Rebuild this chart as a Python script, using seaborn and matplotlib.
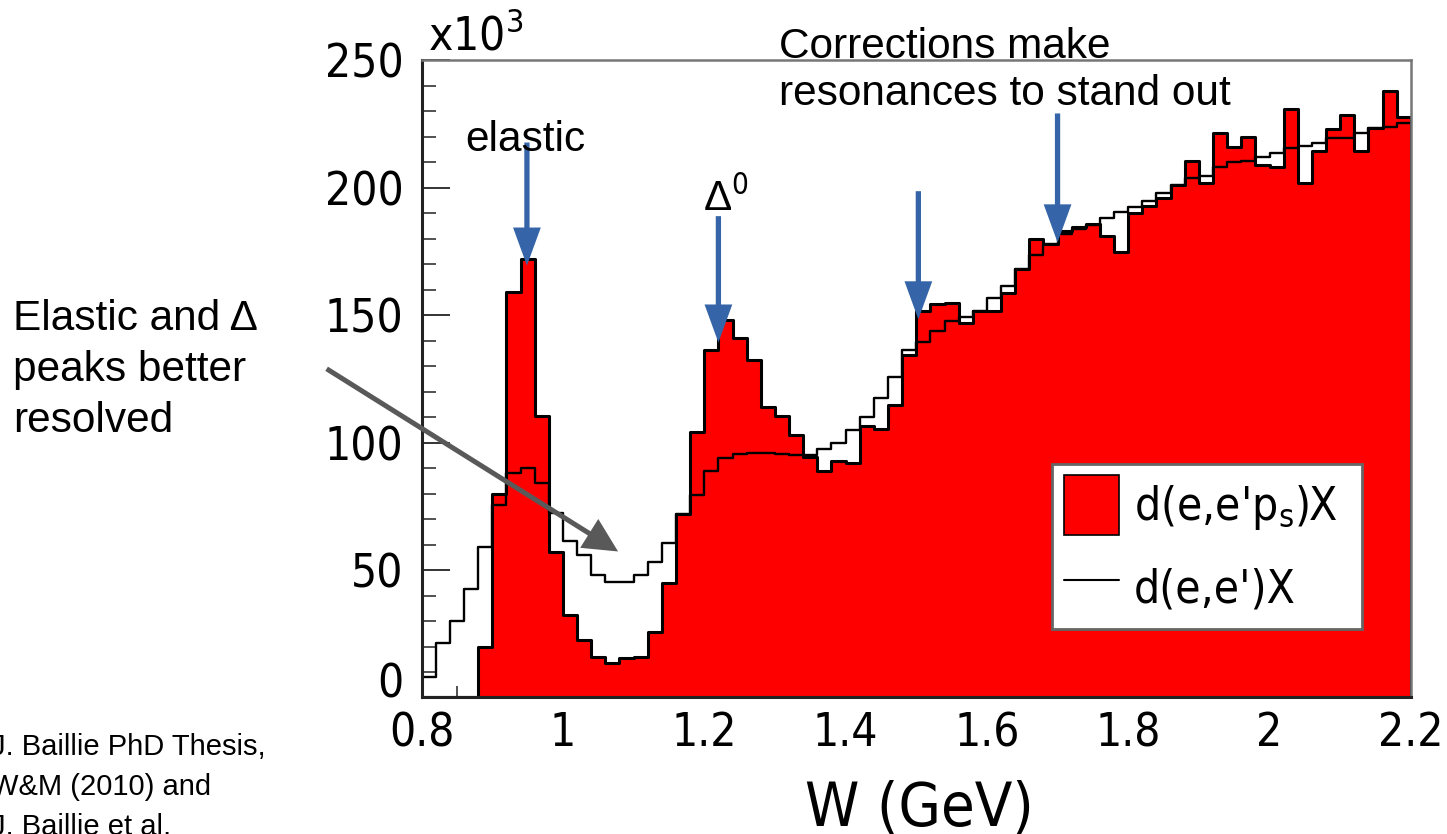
import numpy as np
import pandas as pd
import matplotlib.pyplot as plt
import seaborn as sns
from matplotlib.patches import Patch
from matplotlib.lines import Line2D

# W bins (GeV), 0.02 GeV wide
w_edges = np.linspace(0.80, 2.20, 71)

# counts per bin, in units of 10^3
tagged = [0, 0, 0, 0, 20, 80, 159, 172, 110.5, 57,
          32.5, 22.5, 16, 13.5, 15.5, 16, 25.5, 45, 72, 104,
          136.5, 148, 141, 132.5, 114, 110.5, 103, 94.5, 89, 93,
          92, 106.5, 105.5, 114.7, 134.5, 151.7, 154.6, 155, 146.8, 151.7,
          151.7, 158.7, 168.3, 179.8, 178, 183, 184.5, 186, 181, 175,
          190, 193, 196, 201, 210.5, 202, 221.5, 216, 220, 209,
          208, 231, 202, 214.5, 223, 228.5, 214.5, 223.5, 238, 228]      # d(e,e'p_s)X
inclusive = [8, 21.5, 30, 42.5, 59, 75.5, 88, 90, 84, 72.5,
             61.5, 56, 48, 45.5, 45.5, 48, 53, 60.5, 72, 79.5,
             89, 94, 95.5, 96, 96, 95.5, 95, 95, 97.5, 100,
             104.8, 110, 117.7, 125.7, 136.5, 139.4, 143.8, 147.7, 149.3, 151.7,
             156.6, 161.6, 168.3, 173.8, 178, 182, 184, 185.5, 188, 190.5,
             192.5, 195, 198, 201, 204, 204.5, 208, 210, 210.5, 212,
             213.7, 215.5, 216.3, 217.6, 219.6, 219.5, 221.5, 223.5, 224, 225.5]  # d(e,e')X

x_ticks = [0.8, 1.0, 1.2, 1.4, 1.6, 1.8, 2.0, 2.2]
x_ticklabels = ["0.8", "1", "1.2", "1.4", "1.6", "1.8", "2", "2.2"]
y_ticks = [0, 50, 100, 150, 200, 250]

df = pd.DataFrame({"W": (w_edges[:-1] + w_edges[1:]) / 2,
                   "tagged": tagged, "inclusive": inclusive})

sns.set_style("ticks")
plt.rcParams["font.family"] = ["DejaVu Sans"]
plt.rcParams["font.stretch"] = "condensed"
for key in ["text.color", "axes.labelcolor", "xtick.labelcolor", "ytick.labelcolor"]:
    plt.rcParams[key] = "black"
ann_font = ["Liberation Sans", "DejaVu Sans"]

W, H = 1447, 834
fig = plt.figure(figsize=(W / 100, H / 100), dpi=100)
ax = fig.add_axes([0.2914, 0.1637, 0.6836, 0.7638])

bins = list(w_edges)
sns.histplot(data=df, x="W", weights="tagged", bins=bins, element="step", fill=True,
             color="#ff0000", alpha=1, edgecolor="black", linewidth=2.2, ax=ax)
sns.histplot(data=df, x="W", weights="inclusive", bins=bins, element="step", fill=False,
             color="black", linewidth=1.7, ax=ax)

ax.set_xlim(0.8, 2.2)
ax.set_ylim(0, 250)
ax.set_xticks(x_ticks)
ax.set_xticklabels(x_ticklabels)
ax.set_xticks(np.arange(0.8, 2.201, 0.05), minor=True)
ax.set_yticks(y_ticks)
ax.set_yticks(np.arange(0, 251, 10), minor=True)
ax.tick_params(axis="x", which="major", direction="in", length=13.7, width=1.4,
               pad=10, labelsize=33, color="#333333")
ax.tick_params(axis="x", which="minor", direction="in", length=8, width=1.2, color="#333333")
ax.tick_params(axis="y", which="major", direction="in", length=20, width=1.4,
               pad=13, labelsize=33, color="#333333")
ax.tick_params(axis="y", which="minor", direction="in", length=10, width=1.2, color="#333333")
ax.tick_params(top=False, right=False, which="both")
# ROOT puts the "0" label just above the corner
ax.yaxis.get_major_ticks()[0].label1.set_verticalalignment("baseline")

for side in ["left", "bottom"]:
    ax.spines[side].set_linewidth(2.2)
    ax.spines[side].set_color("#222222")
for side in ["top", "right"]:
    ax.spines[side].set_linewidth(1.8)
    ax.spines[side].set_color("#777777")

ax.set_ylabel("")
ax.set_xlabel("W (GeV)", fontsize=44)
ax.xaxis.label.set_verticalalignment("baseline")
ax.xaxis.set_label_coords(0.5028, -0.2018)

fig.text(428 / W, 1 - 50 / H, "x10$^3$", fontsize=33, ha="left", va="baseline")

# legend
handles = [Patch(facecolor="#ff0000", edgecolor="black", linewidth=1.2),
           Line2D([], [], color="black", lw=1.5)]
leg = ax.legend(handles, ["d(e,e'p$_\\mathrm{s}$)X", "d(e,e')X"], loc="upper left",
                bbox_to_anchor=(0.6373, 0.0, 0.3134, 0.3666), mode="expand",
                borderaxespad=0, fontsize=33, handlelength=1.2, handleheight=1.62,
                handletextpad=0.33, labelspacing=0.5, borderpad=0.25,
                fancybox=False, framealpha=1, edgecolor="#666666")
leg.get_frame().set_linewidth(2)

# blue arrows pointing at resonances
blue = "#3565A8"
for x, top, tip in [(0.949, 217.8, 169.5), (1.220, 188.9, 139.3),
                    (1.503, 198.7, 148.4), (1.700, 229.2, 178.6)]:
    ax.annotate("", xy=(x, tip), xytext=(x, top), annotation_clip=False,
                arrowprops=dict(arrowstyle="simple,head_length=2.74,head_width=2.0,tail_width=0.38",
                                mutation_scale=10, fc=blue, ec="none", shrinkA=0, shrinkB=0))

# grey arrow
ax.annotate("", xy=(1.078, 57.3), xytext=(0.6655, 129), annotation_clip=False,
            arrowprops=dict(arrowstyle="simple,head_length=2.45,head_width=2.45,tail_width=0.36",
                            mutation_scale=10, fc="#595959", ec="none", shrinkA=0, shrinkB=0))


def lines(x, y0, dy, text_lines, size):
    for i, t in enumerate(text_lines):
        fig.text(x / W, 1 - (y0 + i * dy) / H, t, fontsize=size, family=ann_font,
                 stretch="normal", ha="left", va="baseline")


lines(779, 58, 47, ["Corrections make", "resonances to stand out"], 30.5)
lines(465, 151, 0, ["elastic"], 30.5)
lines(13, 330, 51, ["Elastic and Δ", "peaks better", "resolved"], 30.5)
lines(-9, 755, 40, ["J. Baillie PhD Thesis,", "W&M (2010) and", "J. Baillie et al,"], 21)
fig.text(703 / W, 1 - 211 / H, "Δ$^0$", fontsize=30.5, family=ann_font, stretch="normal",
         ha="left", va="baseline")

fig.savefig("out.png", dpi=100)
